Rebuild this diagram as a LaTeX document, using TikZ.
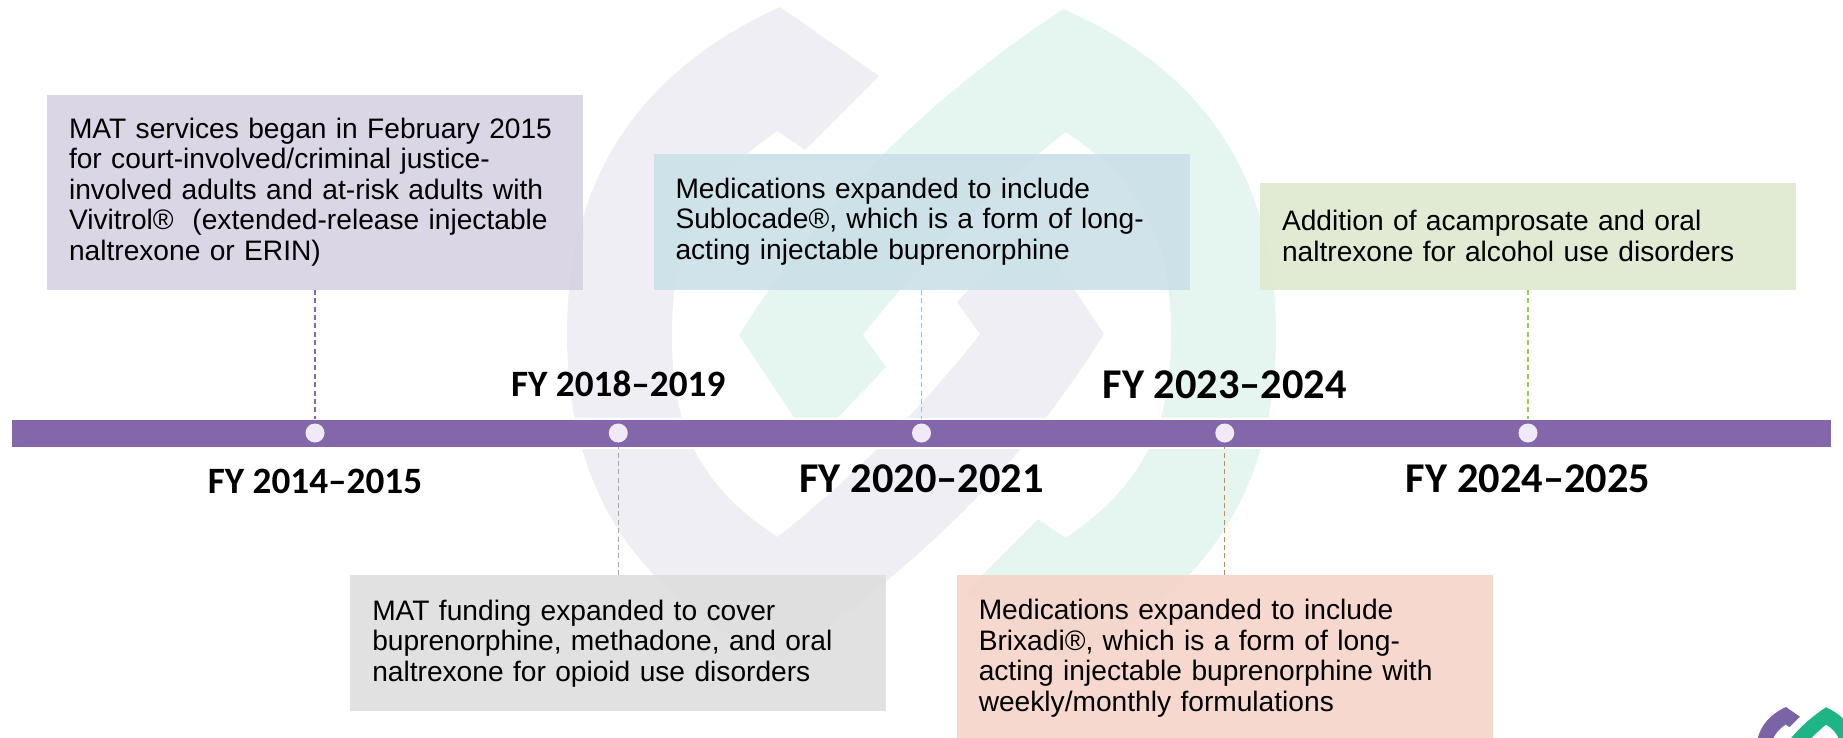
\documentclass[tikz,border=0pt]{standalone}
\usepackage{fontspec}
\setmainfont{Liberation Sans}
\newfontfamily\fyfont{Carlito}
\usetikzlibrary{positioning}

\definecolor{barpurple}{HTML}{8466AA}
\definecolor{dotfill}{HTML}{EFEAF5}
\definecolor{markpurple}{HTML}{EFEEF5}
\definecolor{markgreen}{HTML}{E5F6F0}
\definecolor{cornerpurple}{HTML}{7B63A8}
\definecolor{cornergreen}{HTML}{1DB586}
\definecolor{boxpurple}{HTML}{D7D2E3}
\definecolor{boxgray}{HTML}{DEDEDE}
\definecolor{boxblue}{HTML}{CCE1E8}
\definecolor{boxpeach}{HTML}{F5D5CB}
\definecolor{boxgreen}{HTML}{DEE9D0}
\definecolor{linegray}{HTML}{A6A6A6}
\definecolor{lineblue}{HTML}{7FCCDC}
\definecolor{lineorange}{HTML}{ED7D31}
\definecolor{linegreen}{HTML}{92D050}

\newcommand{\logoband}{(780,7) -- (879,76) -- (805,150) -- (777.5,131)
	.. controls (690,190) and (672,255) .. (672,334)
	.. controls (672,415) and (690,480) .. (777.5,537)
	.. controls (850,480) and (925,405) .. (980,334)
	-- (957,302) .. controls (985,272) and (1010,248) .. (1030,223)
	-- (1104,334) .. controls (1050,420) and (960,540) .. (780,660)
	.. controls (620,590) and (567,470) .. (567,334)
	.. controls (567,200) and (620,80) .. (780,7) -- cycle}
\newcommand{\logomark}[2]{%
	\fill[#1] \logoband;
	\fill[#2, rotate around={180:(921.5,334.5)}] \logoband;
}

\begin{document}
\begin{tikzpicture}[x=1pt, y=-1pt, node distance=130pt]
	\tikzset{block/.style={rectangle, align=left, text width=492pt, inner xsep=22pt, inner ysep=0pt,
			minimum width=536pt, fill opacity=.92, text opacity=1,
			font=\fontsize{28.15}{30.5}\selectfont},
		dot/.style={circle, fill=dotfill, inner sep=0pt, minimum size=19pt},
		fysmall/.style={inner sep=0pt, font=\fyfont\bfseries\fontsize{37.2}{40}\selectfont},
		fylarge/.style={inner sep=0pt, font=\fyfont\bfseries\fontsize{42.4}{45}\selectfont},
		link/.style={dashed, dash pattern=on 5pt off 3.4pt, line width=1.1pt, shorten >=4pt},
	}
	\useasboundingbox (0,0) rectangle (1843,737);

	% watermark and corner mark
	\logomark{markpurple}{markgreen}
	\begin{scope}[shift={(1676,706)}, scale=.141]
		\logomark{cornerpurple}{cornergreen}
	\end{scope}

	\node [rectangle, draw=white, line width=2pt, fill=barpurple, minimum width=1821pt, minimum height=29pt] (bar) at (921.5,433) {};

	\node [dot] (dot1) at (315,433) {};
	\node [dot, right=303.25pt of dot1.center, anchor=center] (dot2) {};
	\node [dot, right=303.25pt of dot2.center, anchor=center] (dot3) {};
	\node [dot, right=303.25pt of dot3.center, anchor=center] (dot4) {};
	\node [dot, right=303.25pt of dot4.center, anchor=center] (dot5) {};

	\node [block, fill=boxpurple, minimum height=195pt, above=133.5pt of dot1] (began) {MAT services began in February 2015\\for court-involved/criminal justice-\\involved adults and at-risk adults with\\Vivitrol®\ \ (extended-release injectable\\naltrexone or ERIN)};
	\node [block, fill=boxgray, minimum height=136pt, below=132.5pt of dot2] (funding) {MAT funding expanded to cover\\buprenorphine, methadone, and oral\\naltrexone for opioid use disorders};
	\node [block, fill=boxblue, minimum height=136pt, above=133.5pt of dot3] (sublocade) {Medications expanded to include\\Sublocade®, which is a form of long-\\acting injectable buprenorphine};
	\node [block, fill=boxpeach, minimum height=166pt, below=132.5pt of dot4] (brixadi) {Medications expanded to include\\Brixadi®, which is a form of long-\\acting injectable buprenorphine with\\weekly/monthly formulations};
	\node [block, fill=boxgreen, minimum height=107pt, above=133.5pt of dot5] (acamprosate) {Addition of acamprosate and oral\\naltrexone for alcohol use disorders};

	\node [fysmall, below=26pt of dot1] (fy1) {FY 2014–2015};
	\node [fysmall, above=26pt of dot2] (fy2) {FY 2018–2019};
	\node [fylarge, below=22pt of dot3] (fy3) {FY 2020–2021};
	\node [fylarge, above=24pt of dot4] (fy4) {FY 2023–2024};
	\node [fylarge, below=22pt of dot5] (fy5) {FY 2024–2025};

	\draw [link, barpurple] (began) -- (dot1);
	\draw [link, linegray] (funding) -- (dot2);
	\draw [link, lineblue] (sublocade) -- (dot3);
	\draw [link, lineorange] (brixadi) -- (dot4);
	\draw [link, linegreen] (acamprosate) -- (dot5);
\end{tikzpicture}
\end{document}
